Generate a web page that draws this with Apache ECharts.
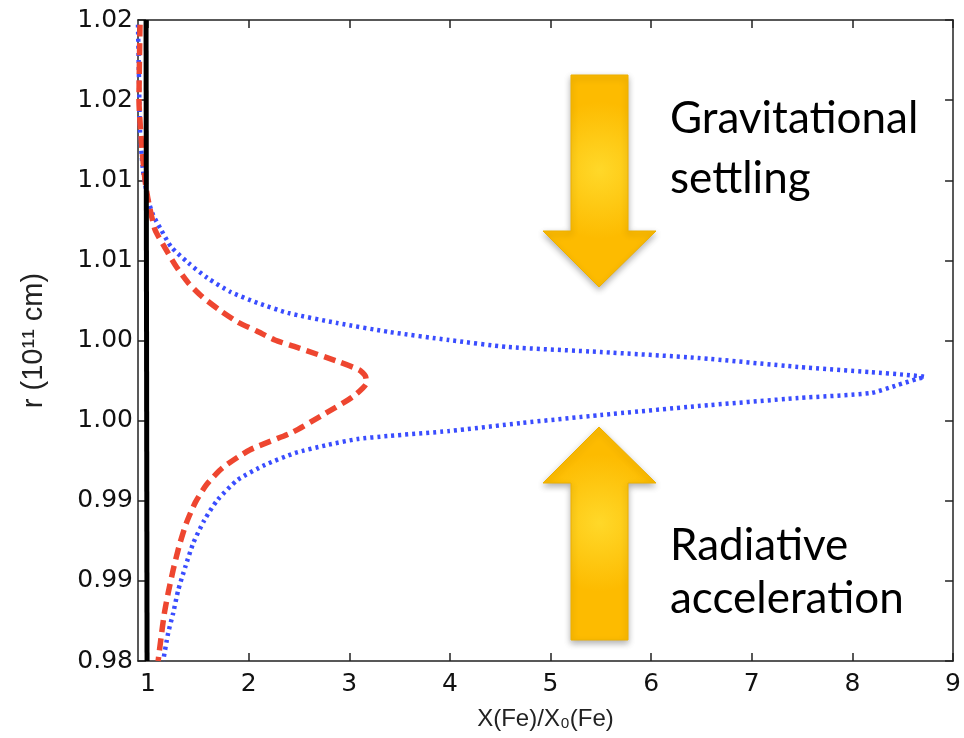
<!DOCTYPE html>
<html>
<head>
<meta charset="utf-8">
<script src="https://cdn.jsdelivr.net/npm/echarts@6/dist/echarts.min.js"></script>
<style>
html,body{margin:0;padding:0;background:#fff;}
#chart{width:964px;height:738px;}
</style>
</head>
<body>
<div id="chart"></div>
<script>
// ---- data ----
const xTickValues = [1, 2, 3, 4, 5, 6, 7, 8, 9];
const yTickLabels = ['0.98', '0.99', '0.99', '1.00', '1.00', '1.01', '1.01', '1.02', '1.02'];

const blackX = [0.98, 0.99];
const blackY = [1.02, 0.98];

const redX = [0.92, 0.91, 0.94, 0.97, 1.00, 1.07, 1.17, 1.27, 1.40, 1.54, 1.71, 1.89, 2.08, 2.26, 2.50, 2.90, 3.10, 3.16, 3.17,
              3.03, 2.77, 2.44, 2.01, 1.74, 1.58, 1.47, 1.38, 1.31, 1.25, 1.20, 1.16, 1.13, 1.10];
const redY = [1.0197, 1.0150, 1.0119, 1.0100, 1.0088, 1.0069, 1.00577, 1.00471, 1.00359, 1.00272, 1.00190, 1.00115, 1.00059, 1.00003, 0.99953, 0.99866, 0.99816, 0.99778, 0.99735,
              0.99647, 0.99548, 0.99429, 0.99317, 0.99205, 0.99100, 0.98990, 0.98860, 0.98720, 0.98570, 0.98425, 0.98290, 0.98150, 0.9800];

const blueX = [0.90, 0.91, 0.92, 0.95, 1.00, 1.05, 1.12, 1.23, 1.40, 1.59, 1.82, 2.09, 2.39, 2.88, 3.40, 3.99, 4.58, 5.50, 6.47, 7.46, 8.18, 8.54, 8.72,
               8.64, 8.45, 8.18, 7.46, 6.47, 5.50, 4.71, 3.99, 3.38, 3.08, 2.78, 2.46, 2.16, 1.89, 1.69, 1.56, 1.45, 1.37, 1.30, 1.25, 1.20, 1.15];
const blueY = [1.0197, 1.0163, 1.0131, 1.0106, 1.0088, 1.00783, 1.00702, 1.00584, 1.00484, 1.00390, 1.00303, 1.00234, 1.00172, 1.00109, 1.00053, 1.00003, 0.99959, 0.99928, 0.99891, 0.99835, 0.99803, 0.99785, 0.99772,
               0.99760, 0.99722, 0.99672, 0.99641, 0.99591, 0.99535, 0.99485, 0.99435, 0.99404, 0.99385, 0.99348, 0.99298, 0.99223, 0.99130, 0.99005, 0.98880, 0.98737, 0.98587, 0.98443, 0.98300, 0.98175, 0.9800];

const zip = (xs, ys) => xs.map((x, i) => [x, ys[i]]);

const chart = echarts.init(document.getElementById('chart'), null, {renderer: 'canvas'});

const axisLineStyle = {color: '#222', width: 1.5};
const tickFont = {fontFamily: 'DejaVu Sans', fontSize: 25, color: '#111'};

function arrowPoints(dir) {
  // block arrow geometry in pixels (annotation graphic, not data)
  if (dir === 'down') {
    return [[571, 75], [628, 75], [628, 231], [656, 231], [599, 287], [543, 231], [571, 231]];
  }
  return [[599, 427], [656, 483], [628, 483], [628, 640], [571, 640], [571, 483], [543, 483]];
}
const arrowFill = () => new echarts.graphic.RadialGradient(0.5, 0.45, 0.6, [
  {offset: 0, color: '#FFD829'},
  {offset: 1, color: '#FDBB00'}
]);

const option = {
  backgroundColor: '#fff',
  animation: false,
  grid: {left: 138, right: 8, top: 20, bottom: 77, show: false},
  xAxis: [{
    type: 'value', min: 0.9, max: 9, position: 'bottom',
    name: 'X(Fe)/X₀(Fe)', nameLocation: 'middle', nameGap: 46,
    nameTextStyle: {fontFamily: 'Liberation Sans', fontSize: 24, color: '#222'},
    axisLine: {show: true, lineStyle: axisLineStyle},
    axisTick: {show: true, inside: true, length: 8, customValues: xTickValues, lineStyle: axisLineStyle},
    axisLabel: Object.assign({customValues: xTickValues, margin: 11, formatter: v => String(v)}, tickFont),
    splitLine: {show: false}
  }, {
    type: 'value', min: 0.9, max: 9, position: 'top',
    axisLine: {show: true, lineStyle: axisLineStyle},
    axisTick: {show: true, inside: true, length: 8, customValues: xTickValues, lineStyle: axisLineStyle},
    axisLabel: {show: false},
    splitLine: {show: false}
  }],
  yAxis: [{
    type: 'value', min: 0.98, max: 1.02, interval: 0.005, position: 'left',
    name: 'r (10¹¹ cm)', nameLocation: 'middle', nameGap: 90, nameRotate: 90,
    nameTextStyle: {fontFamily: 'Liberation Sans', fontSize: 29, color: '#222'},
    axisLine: {show: true, lineStyle: axisLineStyle},
    axisTick: {show: true, inside: true, length: 8, lineStyle: axisLineStyle},
    axisLabel: Object.assign({margin: 5, formatter: v => yTickLabels[Math.round((v - 0.98) / 0.005)]}, tickFont),
    splitLine: {show: false}
  }, {
    type: 'value', min: 0.98, max: 1.02, interval: 0.005, position: 'right',
    axisLine: {show: true, lineStyle: axisLineStyle},
    axisTick: {show: true, inside: true, length: 8, lineStyle: axisLineStyle},
    axisLabel: {show: false},
    splitLine: {show: false}
  }],
  series: [{
    type: 'line', name: 'blue', data: zip(blueX, blueY), showSymbol: false, symbol: 'none', smooth: 0.2,
    lineStyle: {color: '#3A4DFF', width: 4.5, type: [3, 4]}, z: 3
  }, {
    type: 'line', name: 'red', data: zip(redX, redY), showSymbol: false, symbol: 'none', smooth: 0.2,
    lineStyle: {color: '#EE4630', width: 5.5, type: [12, 6.5]}, z: 4
  }, {
    type: 'line', name: 'black', data: zip(blackX, blackY), showSymbol: false, symbol: 'none',
    lineStyle: {color: '#000', width: 5}, z: 5
  }],
  graphic: [
    {type: 'polygon', shape: {points: arrowPoints('down')}, z: 10,
     style: {fill: arrowFill(), stroke: '#EDB000', lineWidth: 1, shadowBlur: 6, shadowColor: 'rgba(0,0,0,0.3)', shadowOffsetY: 3}},
    {type: 'polygon', shape: {points: arrowPoints('up')}, z: 10,
     style: {fill: arrowFill(), stroke: '#EDB000', lineWidth: 1, shadowBlur: 6, shadowColor: 'rgba(0,0,0,0.3)', shadowOffsetY: 3}},
    {type: 'text', z: 11, style: {text: 'Gravitational', x: 670, y: 119, fill: '#000', fontFamily: 'Lato', fontSize: 44, verticalAlign: 'middle'}},
    {type: 'text', z: 11, style: {text: 'settling', x: 670, y: 179, fill: '#000', fontFamily: 'Lato', fontSize: 44, verticalAlign: 'middle'}},
    {type: 'text', z: 11, style: {text: 'Radiative', x: 670, y: 546, fill: '#000', fontFamily: 'Lato', fontSize: 44, verticalAlign: 'middle'}},
    {type: 'text', z: 11, style: {text: 'acceleration', x: 670, y: 599, fill: '#000', fontFamily: 'Lato', fontSize: 44, verticalAlign: 'middle'}}
  ]
};
chart.setOption(option);
</script>
</body>
</html>
